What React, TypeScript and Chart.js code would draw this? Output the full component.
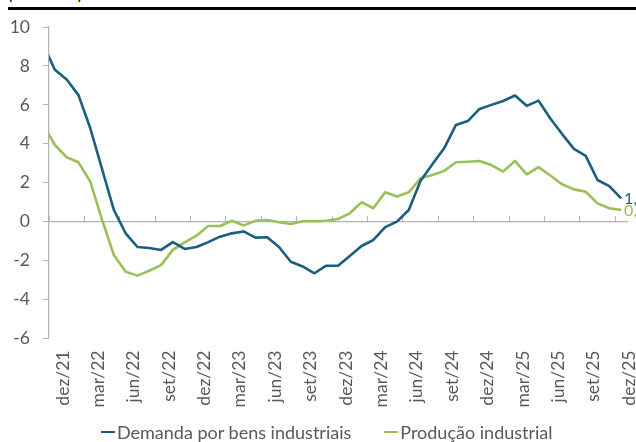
import React, { useEffect, useRef } from "react";
import { Chart, registerables } from "chart.js";

Chart.register(...registerables);

// Monthly categories (nov/21 lies just left of the visible axis and is clipped)
const months = [
  "nov/21", "dez/21",
  "jan/22", "fev/22", "mar/22", "abr/22", "mai/22", "jun/22", "jul/22", "ago/22", "set/22", "out/22", "nov/22", "dez/22",
  "jan/23", "fev/23", "mar/23", "abr/23", "mai/23", "jun/23", "jul/23", "ago/23", "set/23", "out/23", "nov/23", "dez/23",
  "jan/24", "fev/24", "mar/24", "abr/24", "mai/24", "jun/24", "jul/24", "ago/24", "set/24", "out/24", "nov/24", "dez/24",
  "jan/25", "fev/25", "mar/25", "abr/25", "mai/25", "jun/25", "jul/25", "ago/25", "set/25", "out/25", "nov/25", "dez/25",
];

const tickLabels = [
  "dez/21", "mar/22", "jun/22", "set/22", "dez/22", "mar/23", "jun/23", "set/23", "dez/23",
  "mar/24", "jun/24", "set/24", "dez/24", "mar/25", "jun/25", "set/25", "dez/25",
];

const demanda = [
  9.1, 7.8,
  7.3, 6.5, 4.8, 2.7, 0.6, -0.6, -1.3, -1.35, -1.45, -1.05, -1.4, -1.3,
  -1.05, -0.77, -0.6, -0.5, -0.82, -0.8, -1.3, -2.06, -2.3, -2.65, -2.26, -2.26,
  -1.76, -1.25, -0.94, -0.28, 0.0, 0.6, 2.1, 2.95, 3.77, 4.97, 5.17, 5.79,
  6.0, 6.2, 6.48, 5.95, 6.22, 5.3, 4.5, 3.74, 3.38, 2.14, 1.83, 1.2,
];

const producao = [
  5.0, 3.94,
  3.31, 3.05, 2.06, 0.09, -1.71, -2.57, -2.77, -2.52, -2.23, -1.45, -1.06, -0.72,
  -0.22, -0.22, 0.05, -0.19, 0.04, 0.09, -0.03, -0.12, 0.02, 0.02, 0.05, 0.14,
  0.43, 1.0, 0.69, 1.51, 1.29, 1.51, 2.23, 2.4, 2.61, 3.05, 3.08, 3.12,
  2.91, 2.57, 3.12, 2.43, 2.8, 2.37, 1.92, 1.66, 1.54, 0.94, 0.69, 0.6,
];

const seriesNames = ["Demanda por bens industriais", "Produção industrial"];
const yTicks = [-6, -4, -2, 0, 2, 4, 6, 8, 10];

const BLUE = "#1B5E7E";
const GREEN = "#9BC05A";
const AXIS = "#B3B3B3";
const TEXT = "#595959";
const FONT = "Lato, 'Open Sans', sans-serif";

const endLabels = {
  id: "endLabels",
  afterDatasetsDraw(chart: any) {
    const ctx = chart.ctx;
    chart.data.datasets.forEach((ds: any, i: number) => {
      const meta = chart.getDatasetMeta(i);
      const pt = meta.data[meta.data.length - 1];
      const v = ds.data[ds.data.length - 1].y;
      ctx.save();
      ctx.font = `16px ${FONT}`;
      ctx.fillStyle = ds.borderColor;
      ctx.textAlign = "left";
      ctx.textBaseline = "middle";
      ctx.fillText(v.toFixed(1).replace(".", ","), pt.x + 3, pt.y + 1);
      ctx.restore();
    });
  },
};

export default function App() {
  const ref = useRef<HTMLCanvasElement | null>(null);

  useEffect(() => {
    if (!ref.current) return;
    const first = months.indexOf(tickLabels[0]);
    const last = months.indexOf(tickLabels[tickLabels.length - 1]);
    const minX = first - 0.5;
    const maxX = last + 0.5;
    const toPts = (arr: number[]) => arr.map((y, k) => ({ x: k, y }));

    const chart = new Chart(ref.current, {
      type: "line",
      data: {
        datasets: [
          {
            label: seriesNames[0],
            data: toPts(demanda),
            borderColor: BLUE,
            backgroundColor: BLUE,
            borderWidth: 2.6,
            pointRadius: 0,
            tension: 0,
            borderJoinStyle: "round",
            clip: 0,
          },
          {
            label: seriesNames[1],
            data: toPts(producao),
            borderColor: GREEN,
            backgroundColor: GREEN,
            borderWidth: 2.6,
            pointRadius: 0,
            tension: 0,
            borderJoinStyle: "round",
            clip: 0,
          },
        ] as any,
      },
      options: {
        animation: false,
        responsive: false,
        devicePixelRatio: 1,
        layout: { padding: { left: 8, right: 9, top: 27, bottom: 23.5 } },
        plugins: {
          legend: { display: false },
          tooltip: { enabled: false },
        },
        scales: {
          x: {
            type: "linear",
            position: "bottom",
            min: minX,
            max: maxX,
            grid: { display: false, drawTicks: false },
            border: { display: false },
            ticks: {
              autoSkip: false,
              minRotation: 90,
              maxRotation: 90,
              padding: 12,
              labelOffset: 8,
              color: TEXT,
              font: { family: FONT, size: 17.5 },
              callback: (v: any) => months[Math.round(Number(v))] ?? "",
            },
            afterBuildTicks: (axis: any) => {
              axis.ticks = tickLabels.map((l) => ({ value: months.indexOf(l) }));
            },
            afterFit: (axis: any) => {
              axis.height = 80;
              axis.paddingLeft = 0;
              axis.paddingRight = 0;
            },
          },
          x2: {
            type: "linear",
            position: { y: 0 } as any,
            min: minX,
            max: maxX,
            grid: {
              display: true,
              drawOnChartArea: false,
              drawTicks: true,
              tickLength: -6,
              color: AXIS,
              lineWidth: 1,
            },
            border: { display: true, color: AXIS, width: 1.2 },
            ticks: { display: false },
            afterBuildTicks: (axis: any) => {
              axis.ticks = tickLabels.map((l) => ({ value: months.indexOf(l) - 0.5 }));
            },
            afterFit: (axis: any) => {
              axis.paddingLeft = 0;
              axis.paddingRight = 0;
            },
          },
          y: {
            type: "linear",
            position: "left",
            min: yTicks[0],
            max: yTicks[yTicks.length - 1],
            grid: {
              display: true,
              drawOnChartArea: false,
              drawTicks: true,
              tickLength: 6,
              color: AXIS,
            },
            border: { display: true, color: AXIS, width: 1.2 },
            ticks: {
              padding: 13,
              color: TEXT,
              font: { family: FONT, size: 17.5 },
              callback: (v: any) => String(v),
            },
            afterBuildTicks: (axis: any) => {
              axis.ticks = yTicks.map((v) => ({ value: v }));
            },
            afterFit: (axis: any) => {
              axis.width = 41;
            },
          },
        } as any,
      },
      plugins: [endLabels],
    });
    return () => chart.destroy();
  }, []);

  return (
    <div
      style={{
        position: "fixed",
        left: 0,
        top: 0,
        width: 636,
        height: 442,
        overflow: "hidden",
        background: "#fff",
        fontFamily: FONT,
      }}
    >
      <div
        style={{
          position: "absolute",
          left: 8,
          top: -14,
          fontSize: 16,
          lineHeight: "16px",
          color: "#000",
          whiteSpace: "nowrap",
        }}
      >
        (em % a.a.)
      </div>
      <div
        style={{
          position: "absolute",
          left: 8,
          top: 7,
          width: 628,
          height: 3,
          background: "#000",
        }}
      />
      <canvas
        ref={ref}
        width={636}
        height={442}
        style={{ position: "absolute", left: 0, top: 0, width: 636, height: 442 }}
      />
      <div
        style={{
          position: "absolute",
          left: 101,
          top: 421,
          height: 22,
          display: "flex",
          alignItems: "center",
          gap: 33,
          fontSize: 18,
          color: TEXT,
          whiteSpace: "nowrap",
        }}
      >
        {seriesNames.map((name, i) => (
          <div key={name} style={{ display: "flex", alignItems: "center" }}>
            <span
              style={{
                display: "inline-block",
                width: 14,
                height: 2.5,
                background: i === 0 ? BLUE : GREEN,
                marginRight: 2,
              }}
            />
            <span>{name}</span>
          </div>
        ))}
      </div>
    </div>
  );
}
